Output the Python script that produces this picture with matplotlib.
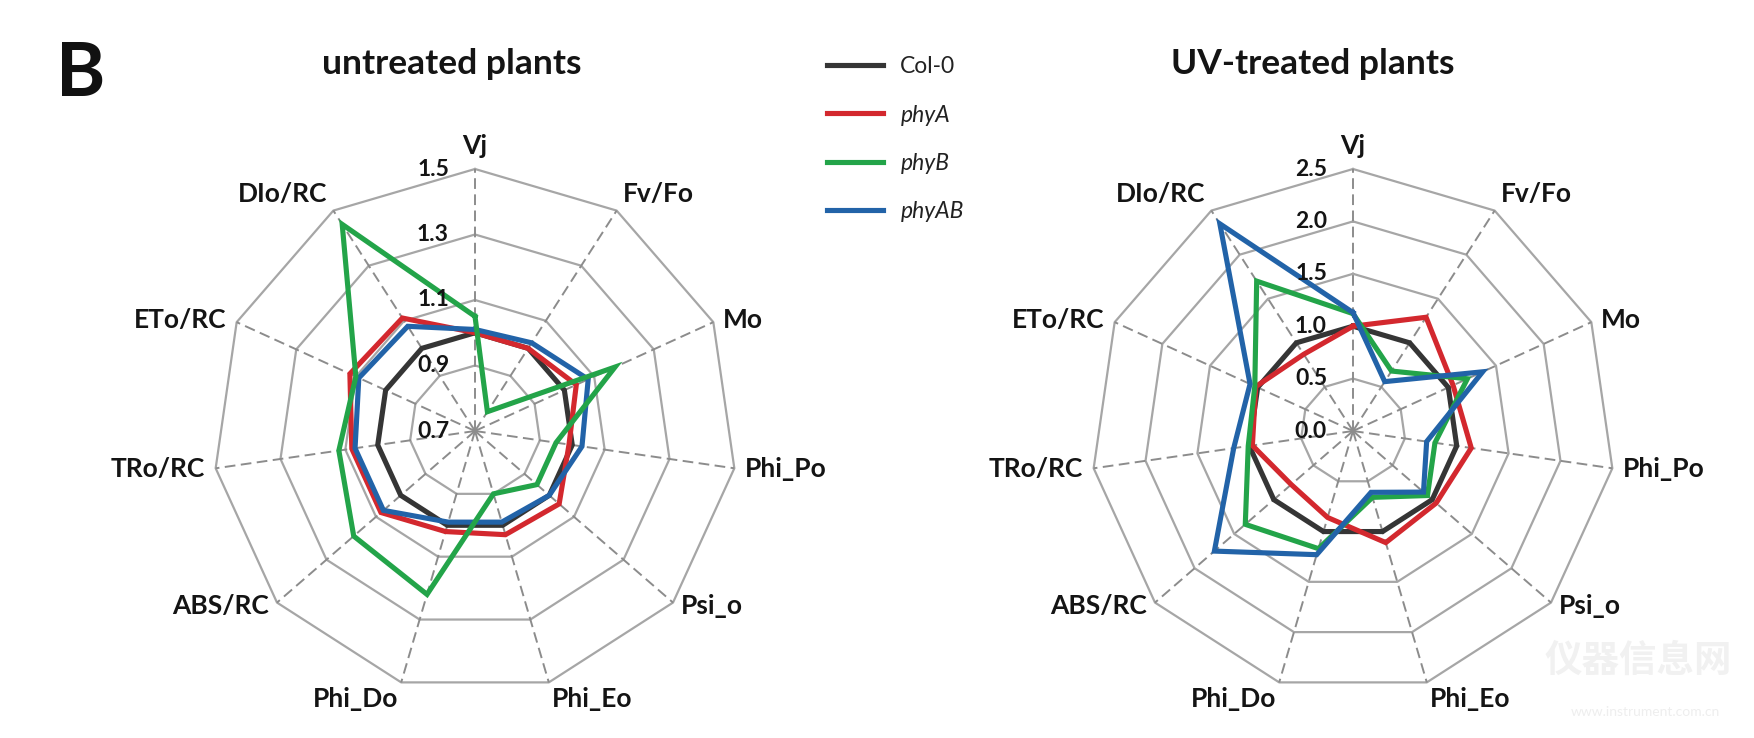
import numpy as np
import matplotlib
matplotlib.use("Agg")
import matplotlib.pyplot as plt

plt.rcParams['font.family'] = ['Lato', 'DejaVu Sans']

categories = ['Vj', 'Fv/Fo', 'Mo', 'Phi_Po', 'Psi_o', 'Phi_Eo',
              'Phi_Do', 'ABS/RC', 'TRo/RC', 'ETo/RC', 'DIo/RC']
series_names = ['Col-0', 'phyA', 'phyB', 'phyAB']

# untreated plants (normalised to Col-0)
untreated_col0 = [1.00, 1.00, 1.00, 1.00, 1.00, 1.00, 1.00, 1.00, 1.00, 1.00, 1.00]
untreated_phyA = [1.00, 1.00, 1.04, 0.99, 1.04, 1.03, 1.02, 1.08, 1.08, 1.12, 1.11]
untreated_phyB = [1.05, 0.77, 1.17, 0.95, 0.95, 0.90, 1.22, 1.19, 1.12, 1.10, 1.45]
untreated_phyAB = [1.01, 1.02, 1.08, 1.03, 1.00, 0.99, 0.99, 1.07, 1.07, 1.09, 1.08]
untreated_ticks = [0.7, 0.9, 1.1, 1.3, 1.5]
untreated_ticklabels = ['0.7', '0.9', '1.1', '1.3', '1.5']

# UV-treated plants
uv_col0 = [1.00, 1.00, 1.00, 1.00, 1.00, 1.00, 1.00, 1.00, 1.00, 1.00, 1.00]
uv_phyA = [1.00, 1.29, 1.05, 1.14, 1.05, 1.11, 0.86, 0.78, 0.97, 1.02, 0.87]
uv_phyB = [1.12, 0.68, 1.20, 0.79, 0.94, 0.66, 1.17, 1.36, 1.01, 1.03, 1.70]
uv_phyAB = [1.13, 0.56, 1.36, 0.71, 0.89, 0.61, 1.23, 1.75, 1.15, 1.08, 2.35]
uv_ticks = [0.0, 0.5, 1.0, 1.5, 2.0, 2.5]
uv_ticklabels = ['0.0', '0.5', '1.0', '1.5', '2.0', '2.5']

colors = ['#353535', '#d3282e', '#23a449', '#2263a8']
txt = '#141414'

n = len(categories)
angles = np.arange(n) * 2 * np.pi / n
ang_closed = np.append(angles, angles[0])


def radar(ax, data, ticks, ticklabels, order):
    rmin, rmax = ticks[0], ticks[-1]
    ax.set_theta_offset(np.pi / 2)
    ax.set_theta_direction(-1)
    ax.set_ylim(rmin, rmax)
    ax.set_xticks([])
    ax.set_yticks([])
    ax.grid(False)
    ax.spines['polar'].set_visible(False)
    ax.patch.set_alpha(0)

    # polygon rings
    for r in ticks[1:]:
        ax.plot(ang_closed, [r] * (n + 1), color='#a6a6a6', lw=1.6,
                zorder=1, clip_on=False)
    # dashed spokes
    for a in angles:
        ax.plot([a, a], [rmin, rmax], color='#8c8c8c', lw=1.4,
                ls=(0, (5.5, 2.8)), zorder=1, clip_on=False)

    lines = []
    for vals, c, z in zip(data, colors, order):
        v = np.append(vals, vals[0])
        ln, = ax.plot(ang_closed, v, color=c, lw=3.7, zorder=3 + z,
                      solid_joinstyle='miter', clip_on=False)
        lines.append(ln)

    for r, lab in zip(ticks, ticklabels):
        ax.annotate(lab, xy=(0, r), xytext=(-26, 0), textcoords='offset pixels',
                    ha='right', va='center', fontsize=16.5, fontweight='bold',
                    color=txt, zorder=10)

    for a, lab in zip(angles, categories):
        s, c = np.sin(a), np.cos(a)
        if abs(s) < 0.05:
            ha = 'center'
        elif s > 0:
            ha = 'left'
        else:
            ha = 'right'
        if c > 0.75:
            va = 'bottom'
        elif c < -0.75:
            va = 'top'
        else:
            va = 'center'
        dx, dy = 11 * s, 5 * c
        if abs(s) < 0.05:
            dy = 11
        ax.annotate(lab, xy=(a, rmax), xytext=(dx, dy), textcoords='offset pixels',
                    ha=ha, va=va, fontsize=19, fontweight='bold', color=txt)
    return lines


fig = plt.figure(figsize=(17.54, 7.38), dpi=100)
W, H = 1754, 738
R = 262

ax1 = fig.add_axes([(475 - R) / W, (H - 431 - R) / H, 2 * R / W, 2 * R / H],
                   projection='polar')
lines = radar(ax1, [untreated_col0, untreated_phyA, untreated_phyB, untreated_phyAB],
              untreated_ticks, untreated_ticklabels, [0, 1, 3, 2])

ax2 = fig.add_axes([(1353 - R) / W, (H - 431 - R) / H, 2 * R / W, 2 * R / H],
                   projection='polar')
radar(ax2, [uv_col0, uv_phyA, uv_phyB, uv_phyAB], uv_ticks, uv_ticklabels,
      [0, 1, 2, 3])

fig.text(452 / W, 1 - 64 / H, 'untreated plants', ha='center', va='center',
         fontsize=25.5, fontweight='bold', color=txt)
fig.text(1313 / W, 1 - 64 / H, 'UV-treated plants', ha='center', va='center',
         fontsize=25.5, fontweight='bold', color=txt)
fig.text(56 / W, 1 - 75 / H, 'B', ha='left', va='center', fontsize=54,
         fontweight='bold', color='#111111')

leg = fig.legend(lines, series_names, loc='upper left',
                 bbox_to_anchor=(827 / W, 1 - 56 / H), frameon=False,
                 fontsize=16.5, handlelength=2.45, handletextpad=0.75,
                 labelspacing=1.2, borderpad=0, borderaxespad=0)
for i, t in enumerate(leg.get_texts()):
    t.set_color('#222222')
    if i > 0:
        t.set_fontstyle('italic')

# faint site watermark in the corner
fig.text(1638 / W, 1 - 660 / H, '仪器信息网', ha='center', va='center',
         fontsize=27, color='#f1f1f1', family=['Noto Sans CJK SC', 'DejaVu Sans'],
         fontweight='bold', zorder=0)
fig.text(1645 / W, 1 - 712 / H, 'www.instrument.com.cn', ha='center', va='center',
         fontsize=10, color='#eeeeee', zorder=0)

fig.savefig('out.png', dpi=100, facecolor='white')
